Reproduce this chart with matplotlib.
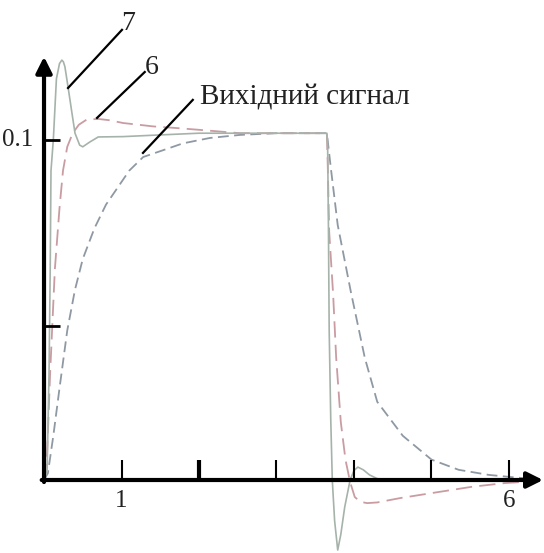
import matplotlib
matplotlib.use('Agg')
import matplotlib.pyplot as plt

plt.rcParams['font.family'] = ['Liberation Serif', 'DejaVu Serif']

# Transient responses: time and amplitude
out_t = [0.0, 0.05, 0.12, 0.2, 0.3, 0.4, 0.5, 0.65, 0.8, 0.98, 1.1, 1.28, 1.6, 1.79, 2.14, 2.53, 3.0, 3.65,
         3.70, 3.79, 3.96, 4.14, 4.3, 4.63, 5.0, 5.35, 5.74, 6.1, 6.3]
out_y = [0.0, 0.002, 0.013, 0.027, 0.044, 0.056, 0.065, 0.074, 0.081, 0.087, 0.091, 0.095, 0.0975, 0.099, 0.1006, 0.1015, 0.102, 0.102,
         0.092, 0.075, 0.0553, 0.0359, 0.023, 0.013, 0.006, 0.003, 0.0015, 0.0007, 0.0004]

c6_t = [0.0, 0.04, 0.08, 0.14, 0.2, 0.245, 0.30, 0.37, 0.45, 0.55, 0.70, 0.85, 1.02, 1.41, 1.72, 2.0, 2.53, 3.65,
        3.66, 3.68, 3.73, 3.77, 3.83, 3.89, 3.95, 4.01, 4.08, 4.17, 4.3, 4.6, 5.1, 5.52, 5.95, 6.3]
c6_y = [0.0, 0.008, 0.032, 0.062, 0.080, 0.091, 0.098, 0.102, 0.1045, 0.106, 0.1062, 0.1058, 0.105, 0.104, 0.1035, 0.103, 0.102, 0.102,
        0.094, 0.073, 0.055, 0.036, 0.017, 0.006, -0.0006, -0.005, -0.0064, -0.0068, -0.0066, -0.0053, -0.0035, -0.002, -0.0009, -0.0004]

c7_t = [0.0, 0.04, 0.065, 0.08, 0.09, 0.12, 0.16, 0.20, 0.23, 0.25, 0.27, 0.31, 0.36, 0.40, 0.46, 0.50, 0.59, 0.70, 1.02, 1.5, 2.0, 3.65,
        3.66, 3.67, 3.68, 3.70, 3.72, 3.75, 3.79, 3.83, 3.88, 3.95, 4.0, 4.05, 4.12, 4.2, 4.3, 4.5, 6.3]
c7_y = [0.0, 0.003, 0.032, 0.062, 0.091, 0.100, 0.118, 0.1225, 0.1235, 0.123, 0.1215, 0.1156, 0.108, 0.102, 0.0985, 0.098, 0.0994, 0.1009, 0.101, 0.1015, 0.102, 0.102,
        0.098, 0.075, 0.044, 0.018, 0.0, -0.012, -0.0206, -0.016, -0.008, 0.0, 0.0028, 0.0038, 0.003, 0.0015, 0.0004, 0.0, 0.0]

x_ticks = [1, 2, 3, 4, 5, 6]
x_tick_lw = [1.5, 3.0, 1.5, 1.5, 1.5, 1.5]
y_ticks = [0.0453, 0.1]

fig = plt.figure(figsize=(5.44, 5.53), dpi=100)
ax = fig.add_axes([0, 0, 1, 1])
ax.set_xlim(-0.568, 6.452)
ax.set_ylim(-0.02147, 0.14118)
ax.axis('off')

ax.plot(out_t, out_y, color='#8f99a3', lw=1.3, dashes=(6, 3), zorder=2)
ax.plot(c6_t, c6_y, color='#c99ca2', lw=1.3, dashes=(9, 4), zorder=3)
ax.plot(c7_t, c7_y, color='#a6b3aa', lw=1.2, zorder=4)

# axes with arrows
ax.annotate('', xy=(6.44, 0), xytext=(-0.03, 0),
            arrowprops=dict(arrowstyle='-|>', lw=3, color='black', mutation_scale=24, shrinkA=0, shrinkB=0),
            zorder=6)
ax.annotate('', xy=(0, 0.1245), xytext=(0, -0.0006),
            arrowprops=dict(arrowstyle='-|>', lw=3, color='black', mutation_scale=24, shrinkA=0, shrinkB=0),
            zorder=6)

ax.vlines(x_ticks, 0, 0.0059, colors='black', lw=x_tick_lw, zorder=6)
ax.hlines(y_ticks, 0, 0.21, colors='black', lw=2, zorder=6)

ax.text(1, -0.003, '1', ha='center', va='top', fontsize=18, color='#222222')
ax.text(6, -0.003, '6', ha='center', va='top', fontsize=18, color='#222222')
ax.text(-0.14, 0.1, '0.1', ha='right', va='center', fontsize=18, color='#222222')

# curve labels with leader lines
ax.plot([1.006, 0.31], [0.1324, 0.1153], color='black', lw=1.6, zorder=5)
ax.plot([1.30, 0.684], [0.1200, 0.1065], color='black', lw=1.6, zorder=5)
ax.plot([1.92, 1.277], [0.1118, 0.0962], color='black', lw=1.6, zorder=5)
ax.text(1.084, 0.1344, '7', ha='center', va='center', fontsize=20, color='#222222')
ax.text(1.39, 0.1212, '6', ha='center', va='center', fontsize=20, color='#222222')
ax.text(2.013, 0.1124, 'Вихідний сигнал', ha='left', va='center', fontsize=21, color='#222222')

fig.savefig('out.png', dpi=100, facecolor='white')
